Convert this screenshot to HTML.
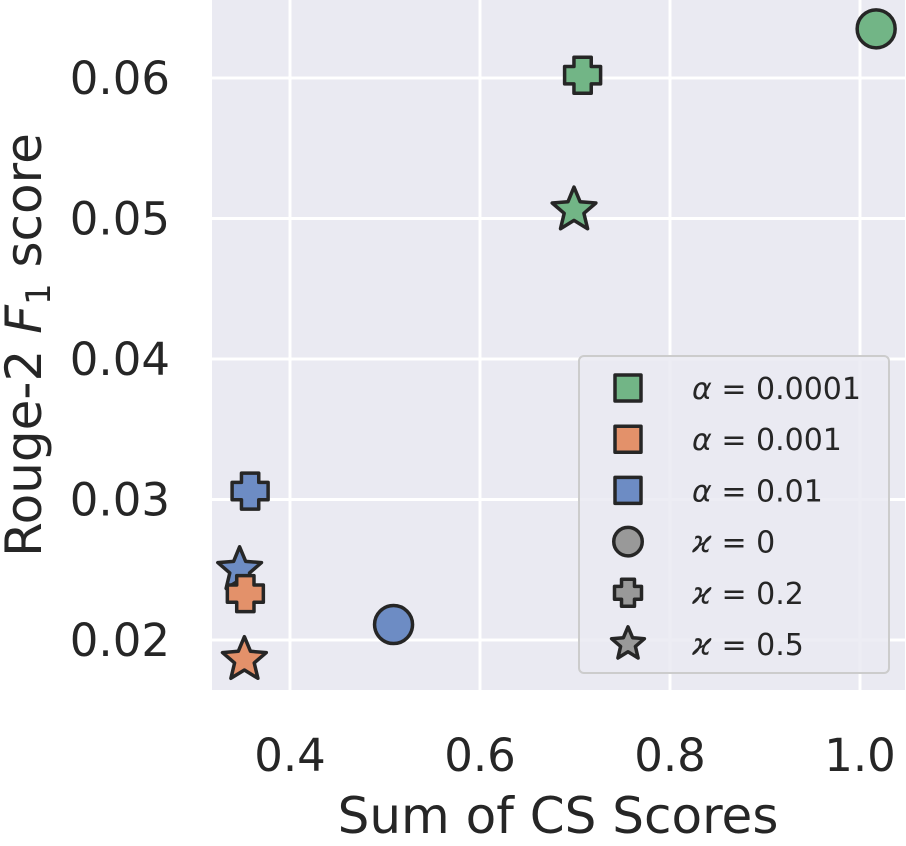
<!DOCTYPE html>
<html><head><meta charset="utf-8"><style>
body{margin:0;background:#fff;font-family:"DejaVu Sans","Liberation Sans",sans-serif}
svg text{fill:#262626}
</style></head><body>
<svg id="c" width="906" height="842" xmlns="http://www.w3.org/2000/svg">
<rect x="212" y="0" width="693" height="690" fill="#eaeaf2"/>
<g id="grid"></g><g id="marks"></g><g id="ticks"></g>
<text x="558" y="833" font-size="50" text-anchor="middle">Sum of CS Scores</text>
<text transform="translate(41,345) rotate(-90)" font-size="50" text-anchor="middle">Rouge-2 <tspan font-style="italic">F</tspan><tspan font-size="34" dy="9">1</tspan><tspan dy="-9"> score</tspan></text>
<g id="legend">
<rect x="579" y="356" width="310" height="317" rx="5" fill="#eaeaf2" fill-opacity="0.85" stroke="#cccccc" stroke-width="2"/>
</g>
</svg>
<script>
const xTicks=[0.4,0.6,0.8,1.0];
const yTicks=[0.02,0.03,0.04,0.05,0.06];
const xLabels=["0.4","0.6","0.8","1.0"];
const yLabels=["0.02","0.03","0.04","0.05","0.06"];
const xs=[1.017,0.708,0.699,0.509,0.358,0.347,0.353,0.352];
const ys=[0.0635,0.0602,0.0506,0.0211,0.0306,0.0250,0.0233,0.0186];
const groups=[0,0,0,2,2,2,1,1];
const shapes=["circle","plus","star","circle","plus","star","plus","star"];
const colors=["#72b586","#e3916a","#6d8cc4"];
const legendSym=["α","α","α","ϰ","ϰ","ϰ"];
const legendVals=["0.0001","0.001","0.01","0","0.2","0.5"];
const X=v=>290+(v-0.4)*950;
const Y=v=>640-(v-0.02)*14050;
const NS="http://www.w3.org/2000/svg";
function mk(t,a,p){const e=document.createElementNS(NS,t);for(const k in a)e.setAttribute(k,a[k]);p.appendChild(e);return e;}
const grid=document.getElementById('grid'),ticks=document.getElementById('ticks'),marks=document.getElementById('marks');
xTicks.forEach((t,i)=>{const l=mk('line',{x1:X(t),x2:X(t),y1:0,y2:690,stroke:'#fff','stroke-width':3},grid);

const tx=mk('text',{x:X(t),y:771,'font-size':45,'text-anchor':'middle'},ticks);tx.textContent=xLabels[i];
});
yTicks.forEach((t,i)=>{const l=mk('line',{x1:212,x2:905,y1:Y(t),y2:Y(t),stroke:'#fff','stroke-width':3},grid);

const tx=mk('text',{x:170,y:Y(t)+16,'font-size':45,'text-anchor':'end'},ticks);tx.textContent=yLabels[i];
});
function starPts(cx,cy,R){const r=R*0.45;let p=[];for(let i=0;i<10;i++){const a=-Math.PI/2+i*Math.PI/5;const rr=i%2?r:R;p.push((cx+rr*Math.cos(a)).toFixed(1)+','+(cy+rr*Math.sin(a)).toFixed(1));}return p.join(' ');}
function plusPts(cx,cy,s){const h=s/2,w=s*0.24;return [[-w,-h],[w,-h],[w,-w],[h,-w],[h,w],[w,w],[w,h],[-w,h],[-w,w],[-h,w],[-h,-w],[-w,-w]].map(p=>(cx+p[0])+','+(cy+p[1])).join(' ');}
function shape(kind,cx,cy,sc,fill,parent,sw){
 const st={fill:fill,stroke:'#262626','stroke-width':sw,'stroke-linejoin':'round'};
 if(kind==='circle')return mk('circle',Object.assign({cx:cx,cy:cy,r:19*sc},st),parent);
 if(kind==='plus')return mk('polygon',Object.assign({points:plusPts(cx,cy,36*sc)},st),parent);
 if(kind==='square')return mk('rect',Object.assign({x:cx-13,y:cy-13,width:26,height:26},st),parent);
 return mk('polygon',Object.assign({points:starPts(cx,cy,23*sc)},st),parent);}
xs.forEach((v,i)=>{const e=shape(shapes[i],X(v),Y(ys[i]),1,colors[groups[i]],marks,3.5);
});
const lg=document.getElementById('legend');
const lshapes=["square","square","square","circle","plus","star"];
const lfill=[colors[0],colors[1],colors[2],"#999","#999","#999"];
legendVals.forEach((t,i)=>{const y=388+i*51.2;
 const s=shape(lshapes[i],628,y,i<3?1:0.75,lfill[i],lg,3.5);
 
 const tx=mk('text',{x:692,y:y+11,'font-size':30},lg);
 const a=mk('tspan',{'font-style':'italic'},tx);a.textContent=legendSym[i];
 const b=mk('tspan',{},tx);b.textContent=' = '+t;
 });
</script>
</body></html>
